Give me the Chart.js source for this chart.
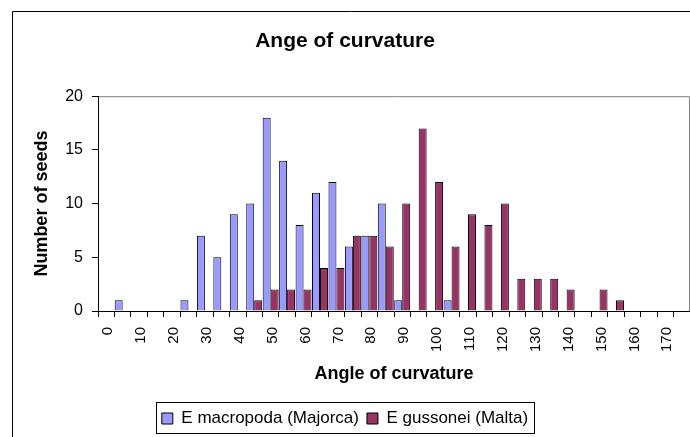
<!DOCTYPE html>
<html>
<head>
<meta charset="utf-8">
<script src="https://cdn.jsdelivr.net/npm/chart.js@4"></script>
<style>
    html, body { margin: 0; padding: 0; background: #fff; overflow: hidden; }
    canvas { display: block; }
</style>
</head>
<body>
<canvas id="seedChart" width="690" height="437"></canvas>
<script>
// angle classes (degrees), every other one gets a label
const angles = [0, 5, 10, 15, 20, 25, 30, 35, 40, 45, 50, 55, 60, 65, 70, 75, 80, 85,
    90, 95, 100, 105, 110, 115, 120, 125, 130, 135, 140, 145, 150, 155, 160, 165, 170, 175];
const macropoda = [0, 1, 0, 0, 0, 1, 7, 5, 9, 10, 18, 14, 8, 11, 12, 6, 7, 10,
    1, 0, 0, 1, 0, 0, 0, 0, 0, 0, 0, 0, 0, 0, 0, 0, 0, 0];
const gussonei = [0, 0, 0, 0, 0, 0, 0, 0, 0, 1, 2, 2, 2, 4, 4, 7, 7, 6,
    10, 17, 12, 6, 9, 8, 10, 3, 3, 3, 2, 0, 2, 1, 0, 0, 0, 0];
const yTicks = [0, 5, 10, 15, 20];

const FONT = "'Liberation Sans', Arial, sans-serif";
Chart.defaults.font.family = FONT;
Chart.defaults.color = '#000';

// outer frame, plot area border and legend box
const frames = {
    id: 'frames',
    beforeDraw(c) {
        const ctx = c.ctx;
        ctx.save();
        ctx.fillStyle = '#fff';
        ctx.fillRect(0, 0, c.width, c.height);
        ctx.strokeStyle = '#000';
        ctx.lineWidth = 1;
        ctx.beginPath();
        ctx.moveTo(12.5, c.height);
        ctx.lineTo(12.5, 11.5);
        ctx.lineTo(c.width, 11.5);
        ctx.stroke();
        const a = c.chartArea;
        ctx.strokeStyle = '#808080';
        ctx.beginPath();
        ctx.moveTo(a.left, a.top + 0.5);
        ctx.lineTo(a.right - 0.5, a.top + 0.5);
        ctx.lineTo(a.right - 0.5, a.bottom);
        ctx.stroke();
        ctx.restore();
    },
    afterDraw(c) {
        const boxes = c.legend.legendHitBoxes;
        if (!boxes || !boxes.length) return;
        const l = Math.min(...boxes.map(b => b.left)) - 6;
        const r = Math.max(...boxes.map(b => b.left + b.width)) + 6;
        const t = Math.min(...boxes.map(b => b.top)) - 8;
        const b = Math.max(...boxes.map(b => b.top + b.height)) + 6;
        const ctx = c.ctx;
        ctx.save();
        ctx.strokeStyle = '#000';
        ctx.lineWidth = 1;
        ctx.strokeRect(Math.round(l) + 0.5, Math.round(t) + 0.5, Math.round(r - l), Math.round(b - t));
        ctx.restore();
    }
};

new Chart(document.getElementById('seedChart'), {
    type: 'bar',
    data: {
        labels: angles,
        datasets: [
            {
                label: 'E macropoda (Majorca)',
                data: macropoda,
                backgroundColor: '#9999FF',
                borderColor: '#000',
                borderWidth: 1,
                categoryPercentage: 0.97,
                barPercentage: 1
            },
            {
                label: 'E gussonei (Malta)',
                data: gussonei,
                backgroundColor: '#993366',
                borderColor: '#000',
                borderWidth: 1,
                categoryPercentage: 0.97,
                barPercentage: 1
            }
        ]
    },
    options: {
        responsive: false,
        animation: false,
        layout: { padding: { left: 0, right: 0, top: 0, bottom: 0 } },
        plugins: {
            title: {
                display: true,
                text: 'Ange of curvature',
                font: { size: 21, weight: 'bold' },
                padding: { top: 29, bottom: 42 }
            },
            legend: {
                position: 'bottom',
                labels: {
                    boxWidth: 11,
                    boxHeight: 11,
                    padding: 8,
                    font: { size: 17 }
                }
            },
            tooltip: { enabled: false }
        },
        scales: {
            x: {
                afterFit: s => {
                    s.height = 437 - s.chart.legend.height - 311;
                    s.paddingLeft = 0;
                    s.paddingRight = 0;
                },
                grid: { drawOnChartArea: false, color: '#000', tickLength: 6 },
                border: { color: '#000' },
                ticks: {
                    autoSkip: false,
                    minRotation: 90,
                    maxRotation: 90,
                    padding: 10,
                    labelOffset: 2,
                    font: { size: 15 },
                    callback: (v, i) => (i % 2 === 0 ? angles[i] : '')
                },
                title: {
                    display: true,
                    text: 'Angle of curvature',
                    font: { size: 18, weight: 'bold' },
                    padding: { top: 0, bottom: 17 }
                }
            },
            y: {
                min: 0,
                max: 20,
                afterFit: s => { s.width = 98; },
                afterBuildTicks: s => { s.ticks = yTicks.map(v => ({ value: v })); },
                grid: { drawOnChartArea: false, color: '#000', tickLength: 6 },
                border: { color: '#000' },
                ticks: { padding: 9, font: { size: 16 } },
                title: {
                    display: true,
                    text: 'Number of seeds',
                    font: { size: 18, weight: 'bold' },
                    padding: { top: 31, bottom: 0 }
                }
            }
        }
    },
    plugins: [frames]
});
</script>
</body>
</html>
